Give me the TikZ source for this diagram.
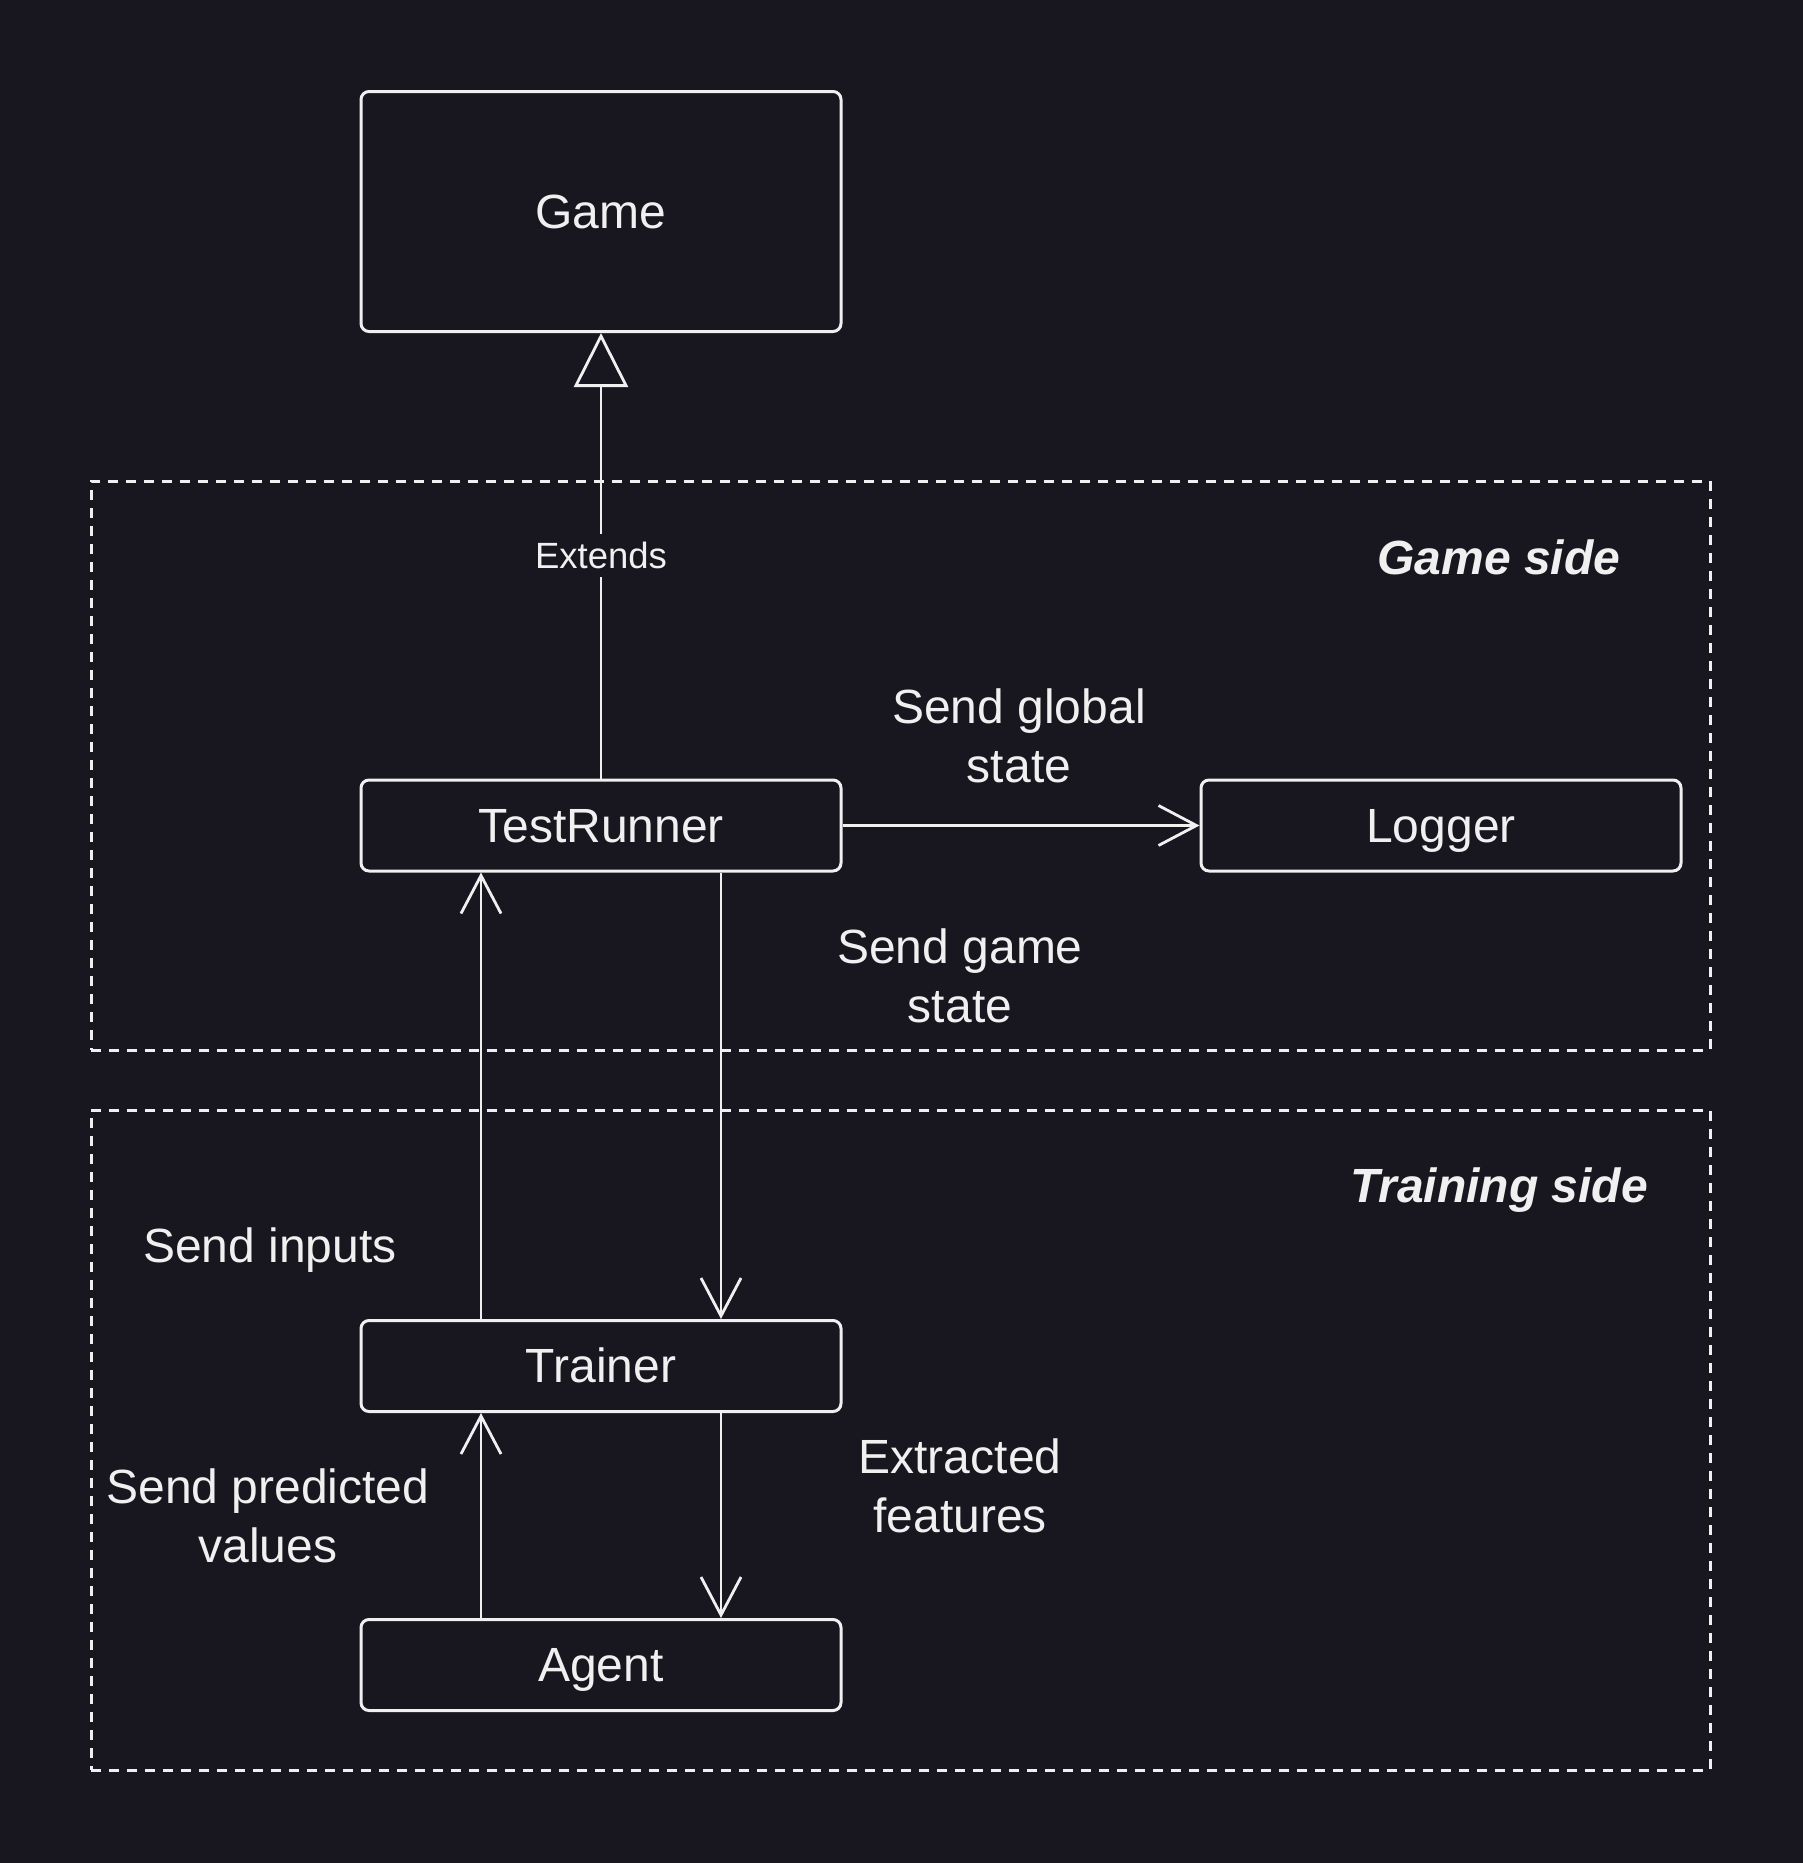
\documentclass[tikz,border=0pt]{standalone}
\usepackage{fontspec}
\setmainfont{Liberation Sans}
\usetikzlibrary{arrows.meta}
\definecolor{bg}{RGB}{24,22,31}
\definecolor{fg}{RGB}{240,240,240}
\begin{document}
\begin{tikzpicture}[x=1pt,y=-1pt,
  box/.style={draw=fg,line width=3pt,rounded corners=8pt,minimum width=480pt,minimum height=91pt,inner sep=0pt,text=fg,font=\fontsize{48}{59}\selectfont,text height=42pt,text depth=8.4pt},
  zone/.style={draw=fg,line width=3pt,dash pattern=on 10pt off 8pt,inner sep=0pt},
  lbl/.style={text=fg,font=\fontsize{48}{59}\selectfont,align=center,inner sep=0pt},
  title/.style={text=fg,font=\fontsize{48}{59}\selectfont\bfseries\itshape,inner sep=0pt},
  conn/.style={draw=fg,line width=2.8pt},
  barb/.style={-{Straight Barb[length=38pt,width=40pt,line width=2.8pt]}},
  inherit/.style={-{Triangle[open,length=54pt,width=54pt,line width=2.8pt]}}]
\fill[bg] (0,0) rectangle (1803,1863);
\useasboundingbox (0,0) rectangle (1803,1863);

% zones
\node[zone,minimum width=1619pt,minimum height=569pt] (gamezone) at (900.5,765.5) {};
\node[zone,minimum width=1619pt,minimum height=660pt] (trainzone) at (900.5,1440) {};
\node[title] (gametitle) at (1499,557) {Game side};
\node[title] (traintitle) at (1499,1190) {Training side};

% boxes
\node[box,minimum height=240pt] (game) at (601,211.5) {Game};
\node[box] (tr) at (601,825.5) {TestRunner};
\node[box] (log) at (1441,825.5) {Logger};
\node[box] (trn) at (601,1366) {Trainer};
\node[box] (ag) at (601,1665) {Agent};

% connectors
\draw[conn,inherit] (tr.north) -- (game.south)
  node[pos=0.5,fill=bg,text=fg,font=\fontsize{36.5}{43}\selectfont,inner xsep=4pt,inner ysep=8pt] (ext) {Extends};
\draw[conn,barb] (tr.east) -- (log.west);
\draw[conn,barb] ([xshift=120pt]tr.south) -- ([xshift=120pt]trn.north);
\draw[conn,barb] ([xshift=-120pt]trn.north) -- ([xshift=-120pt]tr.south);
\draw[conn,barb] ([xshift=120pt]trn.south) -- ([xshift=120pt]ag.north);
\draw[conn,barb] ([xshift=-120pt]ag.north) -- ([xshift=-120pt]trn.south);

% labels
\node[lbl] (lglobal) at (1019,736) {Send global\\state};
\node[lbl] (lgame) at (960,976) {Send game\\state};
\node[lbl] (linputs) at (270,1250) {Send inputs};
\node[lbl] (lpred) at (268,1516) {Send predicted\\values};
\node[lbl] (lfeat) at (960,1486) {Extracted\\features};
\end{tikzpicture}
\end{document}
